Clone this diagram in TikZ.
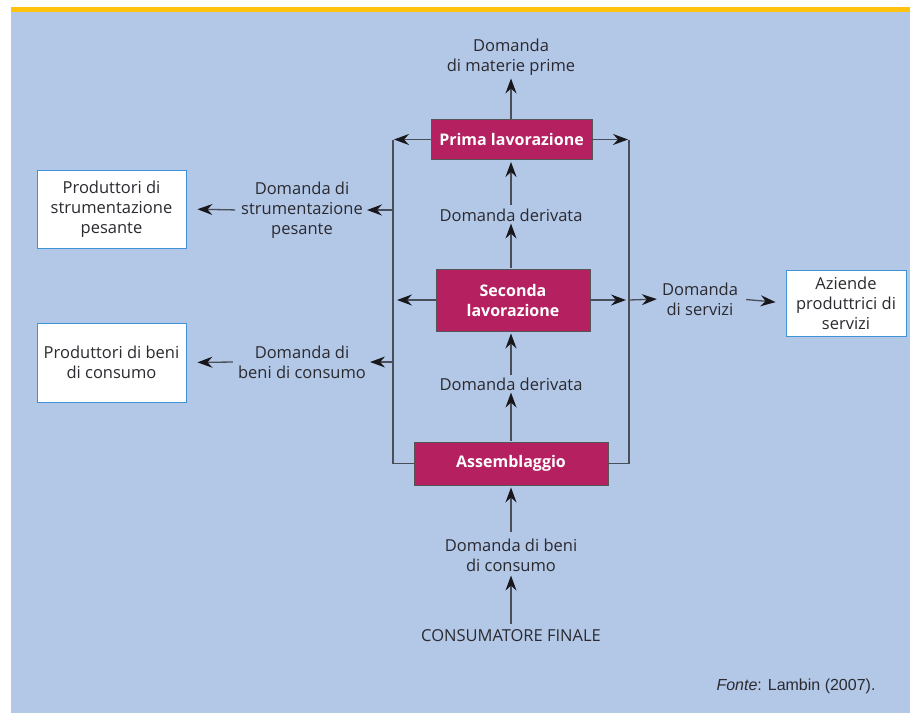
\documentclass[tikz,border=0pt]{standalone}
\usepackage{fontspec}
\setmainfont{Open Sans}
\newfontfamily\notefont{Liberation Sans}
\usetikzlibrary{arrows.meta,calc}

\definecolor{panel}{HTML}{B3C7E6}
\definecolor{band}{HTML}{FFC20E}
\definecolor{stage}{HTML}{B52060}
\definecolor{ink}{HTML}{2A2A30}
\definecolor{wire}{HTML}{4A4E58}
\definecolor{tip}{HTML}{18181C}
\definecolor{frame}{HTML}{3F93D6}

\tikzset{
  lbl/.style={font=\fontsize{16.5}{20}\selectfont, text=ink, align=center, inner sep=2pt},
  stagebox/.style={fill=stage, draw=ink!80, line width=0.9pt, text=white,
    font=\fontsize{16}{20}\selectfont\bfseries, align=center, inner sep=0pt},
  whitebox/.style={fill=white, draw=frame, line width=0.9pt, text=ink,
    font=\fontsize{16.5}{20}\selectfont, align=center, inner sep=0pt},
  wireline/.style={draw=wire, line width=1.3pt},
  arr/.style={wireline, -{Stealth[length=15pt,width=11pt,inset=5pt,color=tip]}},
}

\begin{document}
\begin{tikzpicture}[x=1pt,y=-1pt]
  % page, panel and top band
  \useasboundingbox (0,0) rectangle (910,713);
  \fill[white] (0,0) rectangle (910,713);
  \fill[panel] (11,11) rectangle (910,713);
  \fill[band] (11,7) rectangle (910,11.5);

  % production stages along the central column
  \node[stagebox, minimum width=161pt, minimum height=40pt] (prima) at (511.5,139.5) {Prima lavorazione};
  \node[stagebox, minimum width=154pt, minimum height=62pt] (seconda) at (513,300) {Seconda\\lavorazione};
  \node[stagebox, minimum width=194pt, minimum height=43pt] (assem) at (511,463.5) {Assemblaggio};

  % demand labels on the central column
  \node[lbl] (matprime) at (511,57) {Domanda\\di materie prime};
  \node[lbl] (der1) at (511,215) {Domanda derivata};
  \node[lbl] (der2) at (511,384) {Domanda derivata};
  \node[lbl] (benicons) at (511,555) {Domanda di beni\\di consumo};
  \node[lbl] (consum) at (511,636) {CONSUMATORE FINALE};

  % side demands
  \node[lbl] (strum) at (302,210) {Domanda di\\strumentazione\\pesante};
  \node[lbl] (benil) at (302,362) {Domanda di\\beni di consumo};
  \node[lbl] (servizi) at (700,299) {Domanda\\di servizi};

  % supplier boxes
  \node[whitebox, minimum width=149pt, minimum height=78pt] (prodstrum) at (111.5,209) {Produttori di\\strumentazione\\pesante};
  \node[whitebox, minimum width=149pt, minimum height=79pt] (prodbeni) at (111.5,362.5) {Produttori di beni\\di consumo};
  \node[whitebox, minimum width=120pt, minimum height=66pt] (aziende) at (846,303) {Aziende\\produttrici di\\servizi};

  \node[font=\notefont\fontsize{16}{18}\selectfont, text=ink, anchor=east] (fonte) at (879,686) {\textit{Fonte}: Lambin (2007).};

  % collector lines on both sides
  \coordinate (ltop) at (393,139.5);
  \coordinate (lbot) at (393,463.5);
  \coordinate (rtop) at (629,139.5);
  \coordinate (rbot) at (629,463.5);
  \coordinate (axis) at (511,0);
  \draw[wireline] (ltop) -- (lbot) -- (assem.west);
  \draw[wireline] (rtop) -- (rbot) -- (assem.east);

  % central column arrows, all on one vertical axis
  \draw[arr, shorten >=1pt] (axis |- prima.north) -- (axis |- matprime.south);
  \draw[arr, shorten <=1pt, shorten >=2pt] (axis |- der1.north) -- (axis |- prima.south);
  \draw[arr, shorten <=1pt, shorten >=0pt] (axis |- seconda.north) -- (axis |- der1.south);
  \draw[arr, shorten <=0pt, shorten >=2pt] (axis |- der2.north) -- (axis |- seconda.south);
  \draw[arr, shorten <=1pt, shorten >=0pt] (axis |- assem.north) -- (axis |- der2.south);
  \draw[arr, shorten <=4pt, shorten >=2pt] (axis |- benicons.north) -- (axis |- assem.south);
  \draw[arr, shorten <=4pt, shorten >=2pt] (axis |- consum.north) -- (axis |- benicons.south);

  % branches to the collector lines
  \draw[arr, shorten >=1pt] (prima.west) -- (ltop);
  \draw[arr, shorten >=1pt] (prima.east) -- (rtop);
  \draw[arr, shorten >=4pt] (seconda.west) -- (seconda.west -| ltop);
  \draw[arr, shorten >=3pt] (seconda.east) -- (seconda.east -| rtop);

  % outward demands
  \draw[arr, shorten >=2pt] (ltop |- strum.east) -- (strum.east);
  \draw[arr, shorten <=4pt, shorten >=11pt] (strum.west) -- (prodstrum.east);
  \draw[arr, shorten >=2pt] (ltop |- benil.east) -- (benil.east);
  \draw[arr, shorten <=3pt, shorten >=11pt] (benil.west) -- (prodbeni.east);
  \draw[arr, shorten >=3pt] (seconda.east -| rtop) -- (servizi.west);
  \draw[arr, shorten <=6pt, shorten >=10pt] (servizi.east) -- (aziende.west);
\end{tikzpicture}
\end{document}
